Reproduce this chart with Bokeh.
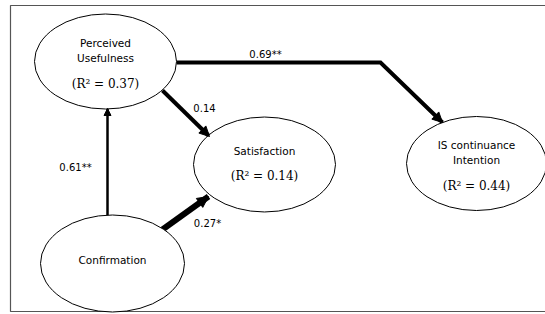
from bokeh.plotting import figure
from bokeh.models import Range1d, Arrow, NormalHead
from bokeh.core.properties import value
from bokeh.embed import file_html
from bokeh.resources import INLINE

# ---- data ----
node_names = ["Perceived Usefulness", "Satisfaction", "IS continuance Intention", "Confirmation"]
node_lines = [["Perceived", "Usefulness"], ["Satisfaction"], ["IS continuance", "Intention"], ["Confirmation"]]
r_squared = [0.37, 0.14, 0.44, None]

edge_from = ["Perceived Usefulness", "Perceived Usefulness", "Confirmation", "Confirmation"]
edge_to = ["IS continuance Intention", "Satisfaction", "Perceived Usefulness", "Satisfaction"]
edge_coef = ["0.69**", "0.14", "0.61**", "0.27*"]

# ---- layout (screen-like coordinates) ----
node_x = [105, 264, 476, 112]
node_y = [61, 164, 163, 263]
node_w = [142, 142, 140, 144]
node_h = [95, 95, 94, 97]
title_offsets = [[-19, -4], [-14], [-19, -4], [-4]]
r2_offset = [22, 11, 22, None]

edge_paths = [
    [(176, 62), (380, 62), (442, 122)],
    [(162, 90), (209, 136)],
    [(107, 215), (107, 108)],
    [(162, 229), (208, 196)],
]
edge_width = [4, 4, 2.5, 6]
edge_head = [10, 10, 7, 11]
label_pos = [(265, 54), (204, 107), (75, 167), (207, 223)]

FONT = value("DejaVu Sans")

p = figure(width=545, height=314, output_backend="svg", toolbar_location=None,
           x_range=Range1d(0, 545), y_range=Range1d(314, 0), min_border=0)
p.axis.visible = False
p.grid.visible = False
p.outline_line_color = None
p.background_fill_color = "white"

# frame
p.line([545, 10, 10, 545], [5, 5, 311, 311], line_color="#555555", line_width=1.2)

# edges
for path, w, hs in zip(edge_paths, edge_width, edge_head):
    xs = [pt[0] for pt in path]
    ys = [pt[1] for pt in path]
    p.line(xs, ys, line_color="black", line_width=w, line_join="miter")
    p.add_layout(Arrow(end=NormalHead(size=hs, fill_color="black", line_color="black", line_width=1),
                       x_start=xs[-2], y_start=ys[-2], x_end=xs[-1], y_end=ys[-1],
                       line_width=0.01, line_color="black"))

# ellipses
p.ellipse(x=node_x, y=node_y, width=node_w, height=node_h,
          fill_color="white", line_color="black", line_width=1)

# node texts
tx, ty, tt = [], [], []
for i, lines in enumerate(node_lines):
    for line, off in zip(lines, title_offsets[i]):
        tx.append(node_x[i]); ty.append(node_y[i] + off); tt.append(line)
p.text(x=tx, y=ty, text=tt, text_font=FONT, text_font_size="10.5px",
       text_align="center", text_baseline="middle", text_color="black")

rx, ry, rt = [], [], []
for i, r in enumerate(r_squared):
    if r is not None:
        rx.append(node_x[i]); ry.append(node_y[i] + r2_offset[i]); rt.append(f"(R\u00b2 = {r:.2f})")
p.text(x=rx, y=ry, text=rt, text_font=value("DejaVu Serif"), text_font_size="12px",
       text_align="center", text_baseline="middle", text_color="black")

# edge labels
p.text(x=[lp[0] for lp in label_pos], y=[lp[1] for lp in label_pos], text=edge_coef,
       text_font=FONT, text_font_size="10px", text_align="center", text_baseline="middle",
       text_color="black")

open("out.html", "w").write(file_html(p, INLINE))
